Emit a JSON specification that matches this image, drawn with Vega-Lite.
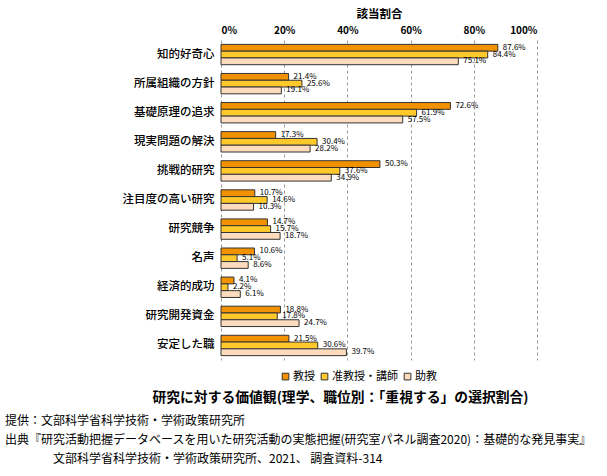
{
  "$schema": "https://vega.github.io/schema/vega-lite/v6.json",
  "width": 316,
  "height": 320,
  "padding": {"left": 5, "top": 8, "right": 5, "bottom": 5},
  "background": "white",
  "config": {
    "font": "Noto Sans CJK JP",
    "view": {"stroke": null}
  },
  "title": {
    "text": ["提供：文部科学省科学技術・学術政策研究所", "出典『研究活動把握データベースを用いた研究活動の実態把握(研究室パネル調査2020)：基礎的な発見事実』", "\u200b\u3000\u3000\u3000\u3000文部科学省科学技術・学術政策研究所、2021、 調査資料-314"],
    "orient": "bottom",
    "anchor": "start",
    "frame": "group",
    "dx": -216,
    "offset": 12,
    "fontSize": 12,
    "fontWeight": "normal",
    "lineHeight": 19,
    "color": "#000000",
    "font": "Noto Sans CJK JP"
  },
  "data": {
    "values": [
      {"cat": "知的好奇心", "s": "教授", "v": 87.6},
      {"cat": "知的好奇心", "s": "准教授・講師", "v": 84.4},
      {"cat": "知的好奇心", "s": "助教", "v": 75.1},
      {"cat": "所属組織の方針", "s": "教授", "v": 21.4},
      {"cat": "所属組織の方針", "s": "准教授・講師", "v": 25.6},
      {"cat": "所属組織の方針", "s": "助教", "v": 19.1},
      {"cat": "基礎原理の追求", "s": "教授", "v": 72.6},
      {"cat": "基礎原理の追求", "s": "准教授・講師", "v": 61.9},
      {"cat": "基礎原理の追求", "s": "助教", "v": 57.5},
      {"cat": "現実問題の解決", "s": "教授", "v": 17.3},
      {"cat": "現実問題の解決", "s": "准教授・講師", "v": 30.4},
      {"cat": "現実問題の解決", "s": "助教", "v": 28.2},
      {"cat": "挑戦的研究", "s": "教授", "v": 50.3},
      {"cat": "挑戦的研究", "s": "准教授・講師", "v": 37.6},
      {"cat": "挑戦的研究", "s": "助教", "v": 34.9},
      {"cat": "注目度の高い研究", "s": "教授", "v": 10.7},
      {"cat": "注目度の高い研究", "s": "准教授・講師", "v": 14.6},
      {"cat": "注目度の高い研究", "s": "助教", "v": 10.3},
      {"cat": "研究競争", "s": "教授", "v": 14.7},
      {"cat": "研究競争", "s": "准教授・講師", "v": 15.7},
      {"cat": "研究競争", "s": "助教", "v": 18.7},
      {"cat": "名声", "s": "教授", "v": 10.6},
      {"cat": "名声", "s": "准教授・講師", "v": 5.1},
      {"cat": "名声", "s": "助教", "v": 8.6},
      {"cat": "経済的成功", "s": "教授", "v": 4.1},
      {"cat": "経済的成功", "s": "准教授・講師", "v": 2.2},
      {"cat": "経済的成功", "s": "助教", "v": 6.1},
      {"cat": "研究開発資金", "s": "教授", "v": 18.8},
      {"cat": "研究開発資金", "s": "准教授・講師", "v": 17.8},
      {"cat": "研究開発資金", "s": "助教", "v": 24.7},
      {"cat": "安定した職", "s": "教授", "v": 21.5},
      {"cat": "安定した職", "s": "准教授・講師", "v": 30.6},
      {"cat": "安定した職", "s": "助教", "v": 39.7}
    ]
  },
  "encoding": {
    "y": {
      "field": "cat",
      "type": "nominal",
      "sort": null,
      "scale": {"paddingInner": 0.3, "paddingOuter": 0.15},
      "axis": {
        "title": null,
        "ticks": false,
        "domain": false,
        "labelFontSize": 11.5,
        "labelFontWeight": 500,
        "labelColor": "#000000",
        "labelPadding": 7,
        "labelFont": "Noto Sans CJK JP"
      }
    },
    "yOffset": {
      "field": "s",
      "type": "nominal",
      "sort": ["教授", "准教授・講師", "助教"],
      "scale": {"paddingInner": 0, "paddingOuter": 0}
    },
    "x": {
      "field": "v",
      "type": "quantitative",
      "scale": {"domain": [0, 100], "nice": false}
    }
  },
  "layer": [
    {
      "mark": {"type": "bar", "stroke": "#333333", "strokeWidth": 1},
      "encoding": {
        "x": {
          "field": "v",
          "type": "quantitative",
          "scale": {"domain": [0, 100], "nice": false},
          "axis": {
            "orient": "top",
            "title": "該当割合",
            "titleFontSize": 11.5,
            "titleFontWeight": "bold",
            "titleColor": "#000000",
            "titlePadding": 6,
            "values": [0, 20, 40, 60, 80, 100],
            "labelExpr": "datum.value + '%'",
            "labelFontSize": 10,
            "labelFontWeight": "bold",
            "labelColor": "#000000",
            "labelPadding": 5,
            "ticks": false,
            "domain": false,
            "grid": true,
            "gridDash": [3, 3],
            "gridColor": "#999999",
            "gridWidth": 1
          }
        },
        "color": {
          "field": "s",
          "type": "nominal",
          "sort": ["教授", "准教授・講師", "助教"],
          "scale": {"domain": ["教授", "准教授・講師", "助教"], "range": ["#F39200", "#FFC92B", "#FDDCBD"]},
          "legend": {
            "title": null,
            "orient": "none",
            "legendX": 59,
            "legendY": 331,
            "direction": "horizontal",
            "symbolType": "square",
            "symbolSize": 45,
            "symbolStrokeColor": "#333333",
            "symbolStrokeWidth": 1,
            "labelFontSize": 11,
            "labelColor": "#000000",
            "labelOffset": 2,
            "columnPadding": 4,
            "labelFont": "Noto Sans CJK JP"
          }
        }
      }
    },
    {
      "mark": {"type": "text", "align": "left", "baseline": "middle", "dx": 5, "fontSize": 8, "color": "#000000", "text": {"expr": "format(datum.v, '.1f') + '%'"}},
      "encoding": {
        "x": {
          "field": "v",
          "type": "quantitative",
          "scale": {"domain": [0, 100], "nice": false},
          "axis": {
            "orient": "bottom",
            "title": "研究に対する価値観(理学、職位別：「重視する」の選択割合)",
            "titleFontSize": 13.8,
            "titleFontWeight": "bold",
            "titleColor": "#000000",
            "titleAnchor": "middle",
            "titleX": 119,
            "titlePadding": 30,
            "labels": false,
            "ticks": false,
            "domain": false,
            "grid": false
          }
        }
      }
    }
  ],
  "resolve": {"axis": {"x": "independent"}}
}
